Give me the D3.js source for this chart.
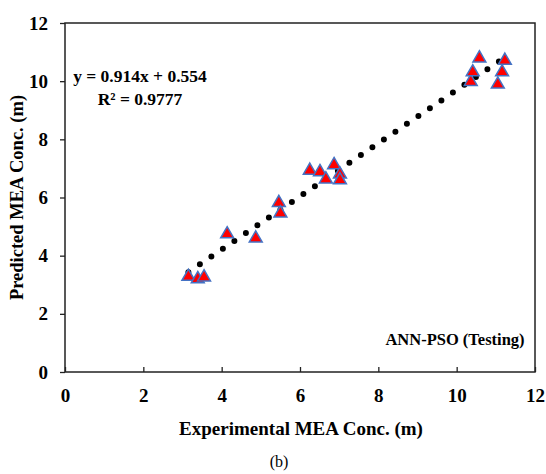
<!DOCTYPE html>
<html><head><meta charset="utf-8">
<script src="https://cdn.jsdelivr.net/npm/d3@7"></script>
<style>body{margin:0;background:#fff;}svg{display:block;}</style>
</head><body>
<svg id="c" width="546" height="474"></svg>
<script>
const expX = [3.15, 3.39, 3.55, 4.14, 4.87, 5.46, 5.50, 6.25, 6.51, 6.66, 6.87, 7.02, 7.02, 10.36, 10.41, 10.58, 11.05, 11.16, 11.23];
const predY = [3.28, 3.20, 3.26, 4.74, 4.60, 5.82, 5.46, 6.93, 6.88, 6.63, 7.12, 6.80, 6.60, 9.98, 10.31, 10.79, 9.89, 10.31, 10.71];
const trendSlope = 0.914, trendIntercept = 0.554;
const trendRange = [3.15, 11.23];
const xTicks = [0, 2, 4, 6, 8, 10, 12];
const yTicks = [0, 2, 4, 6, 8, 10, 12];
const eqText = "y = 0.914x + 0.554";
const r2Text = "R\u00b2 = 0.9777";
const labelText = "ANN-PSO (Testing)";
const xTitle = "Experimental MEA Conc. (m)";
const yTitle = "Predicted MEA Conc. (m)";
const caption = "(b)";

const svg = d3.select("#c");
const L = 65, R = 535, T = 23, B = 372;
const x = d3.scaleLinear().domain([0, 12]).range([L, R]);
const y = d3.scaleLinear().domain([0, 12]).range([B, T]);
const font = "'Liberation Serif','Times New Roman',serif";

svg.append("rect").attr("x", L).attr("y", T).attr("width", R - L).attr("height", B - T)
  .attr("fill", "none").attr("stroke", "#222").attr("stroke-width", 1.5);

const xAxis = d3.axisBottom(x).tickValues(xTicks).tickSize(-5).tickPadding(17).tickFormat(d3.format("d"));
const gx = svg.append("g").attr("transform", `translate(0,${B})`).call(xAxis);
gx.select(".domain").remove();
gx.selectAll("line").attr("stroke", "#222").attr("stroke-width", 1.3);
gx.selectAll("text").attr("font-family", font).attr("font-weight", "bold").attr("font-size", 19).attr("fill", "#000");

const yAxis = d3.axisLeft(y).tickValues(yTicks).tickSize(5).tickPadding(12).tickFormat(d3.format("d"));
const gy = svg.append("g").attr("transform", `translate(${L},0)`).call(yAxis);
gy.select(".domain").remove();
gy.selectAll("line").attr("stroke", "#222").attr("stroke-width", 1.3);
gy.selectAll("text").attr("font-family", font).attr("font-weight", "bold").attr("font-size", 19).attr("fill", "#000");

const tl = trendRange.map(v => [v, trendSlope * v + trendIntercept]);
svg.append("path").datum(tl)
  .attr("d", d3.line().x(d => x(d[0])).y(d => y(d[1])))
  .attr("fill", "none").attr("stroke", "#000").attr("stroke-width", 6)
  .attr("stroke-linecap", "round").attr("stroke-dasharray", "0,13.9");

const tri = d3.symbol().type(d3.symbolTriangle).size(72);
svg.append("g").selectAll("path").data(expX.map((v, i) => [v, predY[i]]))
  .join("path")
  .attr("d", tri)
  .attr("transform", d => `translate(${x(d[0])},${y(d[1])})`)
  .attr("fill", "#FF0000").attr("stroke", "#4472C4").attr("stroke-width", 1.5);

svg.append("text").attr("x", 140).attr("y", 82).attr("text-anchor", "middle")
  .attr("font-family", font).attr("font-weight", "bold").attr("font-size", 17.5).text(eqText);
svg.append("text").attr("x", 140).attr("y", 105).attr("text-anchor", "middle")
  .attr("font-family", font).attr("font-weight", "bold").attr("font-size", 17.5).text(r2Text);
svg.append("text").attr("x", 455).attr("y", 345).attr("text-anchor", "middle")
  .attr("font-family", font).attr("font-weight", "bold").attr("font-size", 16.5).text(labelText);
svg.append("text").attr("x", 301).attr("y", 435).attr("text-anchor", "middle")
  .attr("font-family", font).attr("font-weight", "bold").attr("font-size", 19).text(xTitle);
svg.append("text").attr("transform", `translate(23,${(T + B) / 2}) rotate(-90)`).attr("text-anchor", "middle")
  .attr("font-family", font).attr("font-weight", "bold").attr("font-size", 18.5).text(yTitle);
svg.append("text").attr("x", 279).attr("y", 467).attr("text-anchor", "middle")
  .attr("font-family", font).attr("font-size", 16).text(caption);
</script>
</body></html>
